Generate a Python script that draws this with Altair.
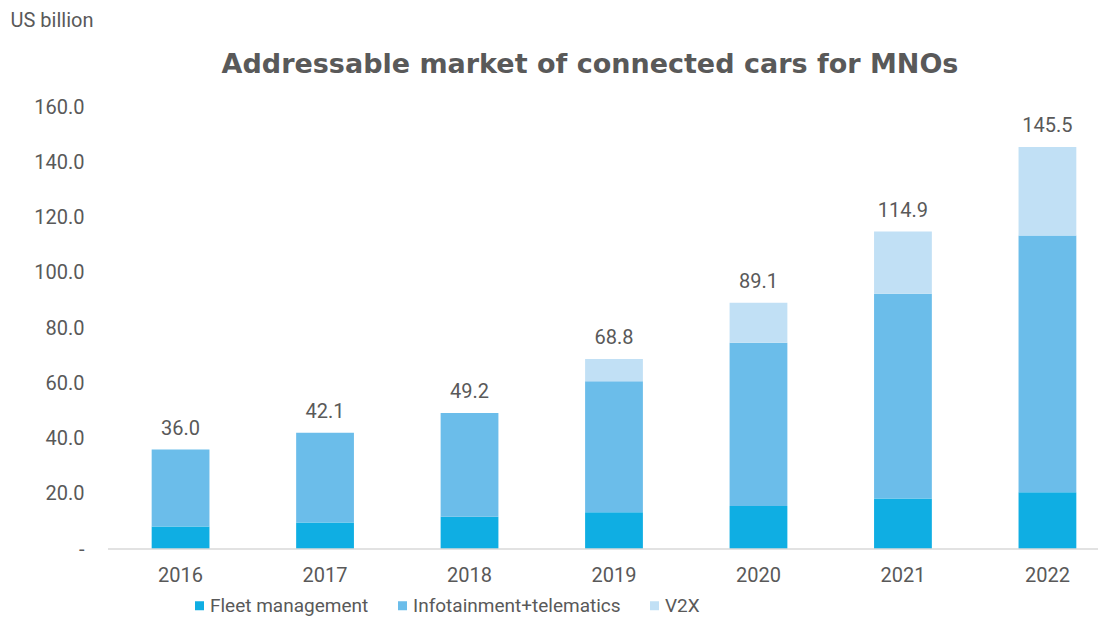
import altair as alt
import pandas as pd

years = ["2016", "2017", "2018", "2019", "2020", "2021", "2022"]
fleet = [8.1, 9.6, 11.7, 13.3, 15.6, 18.3, 20.5]
info = [27.9, 32.5, 37.5, 47.4, 59.1, 74.1, 93.0]
v2x = [0.0, 0.0, 0.0, 8.1, 14.4, 22.5, 32.0]
totals = [36.0, 42.1, 49.2, 68.8, 89.1, 114.9, 145.5]
series = ["Fleet management", "Infotainment+telematics", "V2X"]
colors = ["#0FAEE3", "#6BBDEA", "#C1E0F5"]
y_ticks = [0, 20, 40, 60, 80, 100, 120, 140, 160]
title_text = "Addressable market of connected cars for MNOs"

rows = []
for i, y in enumerate(years):
    for k, (name, vals) in enumerate(zip(series, [fleet, info, v2x])):
        if vals[i] > 0:
            rows.append({"year": y, "series": name, "value": vals[i], "ord": k})
df = pd.DataFrame(rows)
tot = pd.DataFrame({"year": years, "total": totals})

W = 968
H = 442
FONT = "Roboto"
GRAY = "#595959"
FS = 20

x_enc = alt.X("year:N", sort=years,
              scale=alt.Scale(paddingInner=0.6, paddingOuter=0.15),
              axis=alt.Axis(title=None, labelAngle=0, labelFontSize=FS, labelColor=GRAY,
                            labelFont=FONT, ticks=False, domain=False, labelPadding=16))
y_scale = alt.Scale(domain=[0, 160], nice=False)

bars = alt.Chart(df).mark_bar().encode(
    x=x_enc,
    y=alt.Y("value:Q", stack="zero", scale=y_scale,
            axis=alt.Axis(values=y_ticks, grid=False, domain=False, ticks=False,
                          labelFontSize=FS, labelColor=GRAY, labelFont=FONT,
                          labelPadding=46,
                          labelExpr="datum.value == 0 ? '-\u00a0\u00a0\u00a0' : format(datum.value, '.1f')",
                          title="US billion", titleAngle=0, titleAlign="left",
                          titleBaseline="middle", titleFontSize=FS, titleFontWeight="normal",
                          titleColor=GRAY, titleFont=FONT, titleX=-120, titleY=-87)),
    color=alt.Color("series:N", sort=series,
                    scale=alt.Scale(domain=series, range=colors),
                    legend=alt.Legend(title=None, orient="none", direction="horizontal",
                                      legendX=60, legendY=489, symbolType="square",
                                      symbolSize=81, symbolStrokeWidth=0,
                                      labelFontSize=19, labelColor=GRAY, labelFont=FONT,
                                      labelLimit=0, columnPadding=24, labelOffset=1)),
    order=alt.Order("ord:Q", sort="ascending"),
)

labels = alt.Chart(tot).mark_text(baseline="bottom", dy=-11, fontSize=FS, color=GRAY, font=FONT).encode(
    x=alt.X("year:N", sort=years),
    y=alt.Y("total:Q", scale=y_scale),
    text=alt.Text("total:Q", format=".1f"),
)

base = alt.Chart(pd.DataFrame({"z": [0]})).mark_rule(color="#d9d9d9", strokeWidth=1.5).encode(
    y=alt.Y("z:Q", scale=y_scale),
    x=alt.value(-22),
    x2=alt.value(W),
)

title = alt.Chart(pd.DataFrame({"t": [title_text]})).mark_text(
    fontSize=27, fontWeight="bold", color=GRAY, font="DejaVu Sans", align="center", baseline="middle"
).encode(text="t:N", x=alt.value(460), y=alt.value(-42))

chart = alt.layer(bars, labels, base, title).properties(
    width=W, height=H,
    autosize=alt.AutoSizeParams(type="none"),
    padding={"left": 122, "top": 99, "right": 3, "bottom": 68},
).configure_view(stroke=None)

chart.save("out.html", embed_options={"renderer": "svg", "actions": False})
